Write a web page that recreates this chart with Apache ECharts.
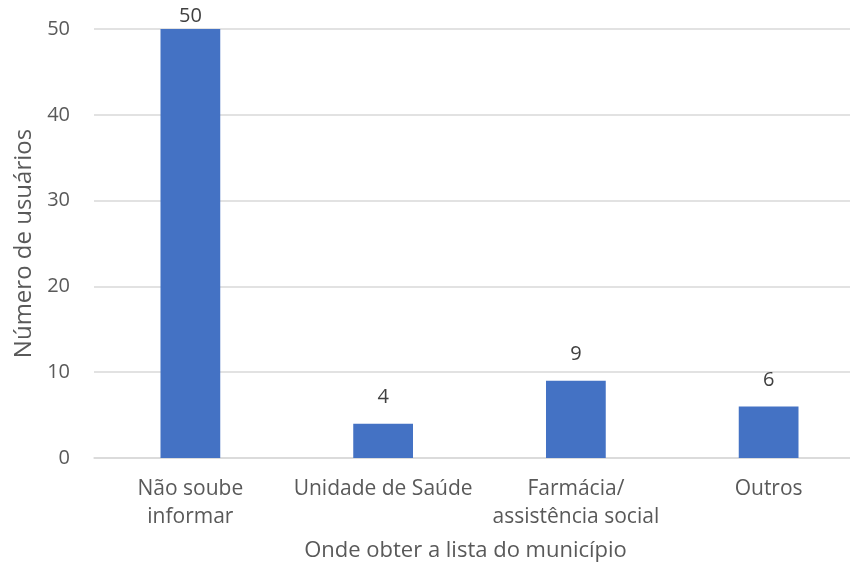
<!DOCTYPE html>
<html>
<head>
<meta charset="utf-8">
<script src="https://cdn.jsdelivr.net/npm/echarts@6/dist/echarts.min.js"></script>
<style>
  html, body { margin: 0; padding: 0; background: #fff; }
  #chart { width: 850px; height: 573px; }
</style>
</head>
<body>
<div id="chart"></div>
<script>
// Where users said they could get the municipal medicines list
const categories = ['Não soube\ninformar', 'Unidade de Saúde', 'Farmácia/\nassistência social', 'Outros'];
const usuarios = [50, 4, 9, 6];
const yTicks = [0, 10, 20, 30, 40, 50];

const FONT = '"Open Sans", "Noto Sans", sans-serif';
const GREY = '#595959';

const chart = echarts.init(document.getElementById('chart'));
chart.setOption({
  animation: false,
  textStyle: { fontFamily: FONT },
  // plot area runs slightly past the right edge of the canvas
  grid: { left: 94, width: 771, top: 29, bottom: 115, outerBoundsMode: 'none', containLabel: false },
  xAxis: {
    type: 'category',
    data: categories,
    axisLine: { lineStyle: { color: '#d9d9d9', width: 1.5 } },
    axisTick: { show: false },
    axisLabel: { color: GREY, fontSize: 21, lineHeight: 28, margin: 17, interval: 0 },
    name: 'Onde obter a lista do município',
    nameLocation: 'middle',
    nameGap: 82,
    nameTextStyle: { color: GREY, fontSize: 22, padding: [0, 28, 0, 0] }
  },
  yAxis: {
    type: 'value',
    min: yTicks[0],
    max: yTicks[yTicks.length - 1],
    interval: 10,
    axisLine: { show: false },
    axisTick: { show: false },
    splitLine: { lineStyle: { color: '#d9d9d9', width: 1.5 } },
    axisLabel: { color: GREY, fontSize: 20, margin: 24 },
    name: 'Número de usuários',
    nameLocation: 'middle',
    nameGap: 55,
    nameTextStyle: { color: GREY, fontSize: 24 }
  },
  series: [{
    type: 'bar',
    data: usuarios,
    barWidth: '31%',
    itemStyle: { color: '#4472C4' },
    label: {
      show: true,
      position: 'top',
      distance: 16,
      color: '#404040',
      fontSize: 20
    },
    // keep value labels from leaving the top of the canvas
    labelLayout: function (params) {
      const r = params.labelRect;
      if (r.y < 3) {
        return {
          x: r.x + r.width / 2,
          y: 16,
          align: 'center',
          verticalAlign: 'middle'
        };
      }
      return {};
    }
  }]
});
</script>
</body>
</html>
